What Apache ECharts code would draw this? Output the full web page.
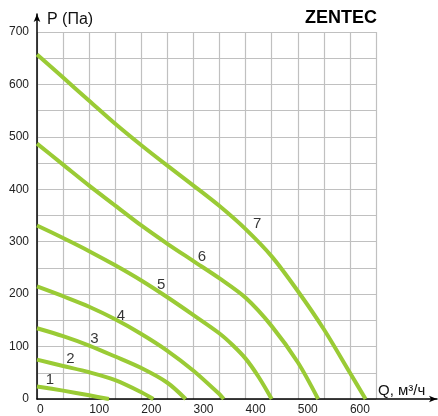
<!DOCTYPE html>
<html>
<head>
<meta charset="utf-8">
<script src="https://cdn.jsdelivr.net/npm/echarts@6/dist/echarts.min.js"></script>
<style>html,body{margin:0;padding:0;background:#fff;}#c{width:438px;height:416px;}</style>
</head>
<body>
<div id="c"></div>
<script>
// Curve data: airflow Q (m3/h) and pressure P (Pa)
var q1 = [0, 50, 100, 138];
var p1 = [24, 16, 7, 0];
var q2 = [0, 50, 100, 150, 200, 223];
var p2 = [75, 63, 51, 36, 13, 0];
var q3 = [0, 50, 100, 150, 200, 250, 285];
var p3 = [135, 120, 102, 81, 59, 31, 0];
var q4 = [0, 50, 100, 150, 200, 250, 300, 350, 358];
var p4 = [215, 196, 176, 152, 124, 92, 54, 9, 0];
var q5 = [0, 50, 100, 150, 200, 250, 300, 350, 375, 400, 425, 450];
var p5 = [331, 307, 282, 255, 226, 194, 160, 125, 103, 77, 42, 0];
var q6 = [0, 50, 100, 150, 200, 250, 300, 350, 400, 450, 500, 539];
var p6 = [487, 447, 407, 369, 331, 296, 263, 230, 193, 139, 70, 0];
var q7 = [0, 50, 100, 150, 200, 250, 300, 350, 400, 450, 500, 550, 600, 630];
var p7 = [657, 613, 569, 525, 484, 445, 407, 368, 324, 272, 206, 133, 50, 0];

// Curve number labels (position in data units)
var labelNames = ['1', '2', '3', '4', '5', '6', '7'];
var labelQ = [25, 64, 110, 161, 238, 316, 422];
var labelP = [37, 77, 115, 158, 217, 272, 334];

var xTicks = [0, 100, 200, 300, 400, 500, 600];
var yTicks = [0, 100, 200, 300, 400, 500, 600, 700];

var curvesQ = [q1, q2, q3, q4, q5, q6, q7];
var curvesP = [p1, p2, p3, p4, p5, p6, p7];

var chart = echarts.init(document.getElementById('c'), null, {renderer: 'canvas'});
var green = '#9acb35';
var font = 'Liberation Sans, Arial, sans-serif';

var series = curvesQ.map(function (qs, i) {
  return {
    type: 'line',
    xAxisIndex: 0, yAxisIndex: 0,
    data: qs.map(function (q, j) { return [q, curvesP[i][j]]; }),
    showSymbol: false,
    smooth: 0.3,
    lineStyle: {color: green, width: 4},
    z: 3,
    silent: true
  };
});
series.push({
  type: 'scatter',
  xAxisIndex: 0, yAxisIndex: 0,
  symbolSize: 0,
  data: labelNames.map(function (n, i) { return {name: n, value: [labelQ[i], labelP[i]]}; }),
  label: {show: true, position: 'inside', formatter: '{b}', color: '#000', fontSize: 15, fontFamily: font},
  z: 5
});

chart.setOption({
  animation: false,
  backgroundColor: '#fff',
  title: {
    text: 'ZENTEC', right: 61, top: 9, padding: 0,
    textStyle: {fontSize: 18, fontWeight: 'bold', color: '#000', fontFamily: font}
  },
  grid: [
    {left: 37, right: 62, top: 32, bottom: 17},
    {left: 37, right: 1, top: 14, bottom: 17}
  ],
  xAxis: [
    {
      type: 'value', gridIndex: 0, min: 0, max: 650, interval: 50,
      axisLine: {show: false}, axisTick: {show: false},
      splitLine: {show: true, lineStyle: {color: '#c0c0c0', width: 1.2}},
      axisLabel: {
        margin: 5, align: 'left', color: '#222', fontSize: 12, fontFamily: font,
        showMaxLabel: false,
        formatter: function (v) { return xTicks.indexOf(v) >= 0 ? String(v) : ''; }
      },
      name: 'Q, м³/ч', nameLocation: 'end', nameGap: 2,
      nameTextStyle: {align: 'left', verticalAlign: 'bottom', fontSize: 15, color: '#111', fontFamily: font, padding: [0, 0, 1, 0]}
    },
    {
      type: 'value', gridIndex: 1, min: 0, max: 1,
      axisLine: {show: true, symbol: ['none', 'arrow'], symbolSize: [5, 8], lineStyle: {color: '#000', width: 1.5}},
      axisTick: {show: false}, axisLabel: {show: false}, splitLine: {show: false}
    }
  ],
  yAxis: [
    {
      type: 'value', gridIndex: 0, min: 0, max: 700, interval: 50,
      axisLine: {show: false}, axisTick: {show: false},
      splitLine: {show: true, lineStyle: {color: '#c0c0c0', width: 1.2}},
      axisLabel: {
        margin: 8, color: '#222', fontSize: 12, fontFamily: font,
        formatter: function (v) { return yTicks.indexOf(v) >= 0 ? String(v) : ''; }
      },
      name: 'P (Па)', nameLocation: 'end', nameGap: 4,
      nameTextStyle: {align: 'left', verticalAlign: 'bottom', fontSize: 16, color: '#111', fontFamily: font, padding: [0, 0, 0, 10]}
    },
    {
      type: 'value', gridIndex: 1, min: 0, max: 1,
      axisLine: {show: true, symbol: ['none', 'arrow'], symbolSize: [5, 8], lineStyle: {color: '#000', width: 1.5}},
      axisTick: {show: false}, axisLabel: {show: false}, splitLine: {show: false}
    }
  ],
  series: series
});
</script>
</body>
</html>
